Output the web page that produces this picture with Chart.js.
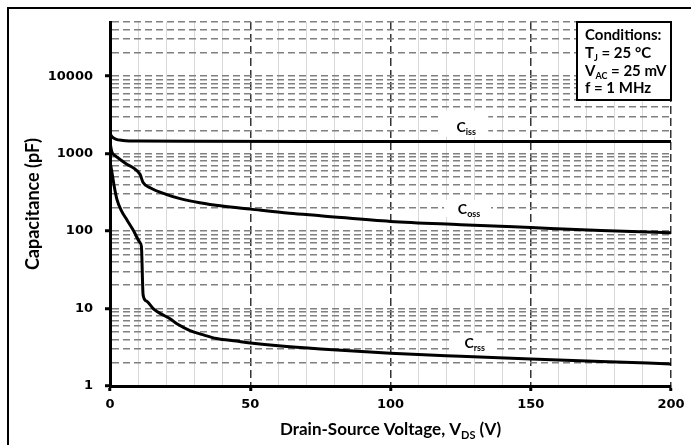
<!DOCTYPE html>
<html>
<head>
<meta charset="utf-8">
<script src="https://cdn.jsdelivr.net/npm/chart.js@4.4.1/dist/chart.umd.min.js"></script>
<style>
  html, body { margin: 0; padding: 0; background: #fff; }
  #wrap { position: relative; width: 691px; height: 445px; }
  canvas { display: block; }
</style>
</head>
<body>
<div id="wrap"><canvas id="c" width="691" height="445"></canvas></div>
<script>
// ---- Data ----
const cissV = [0, 0.7, 2, 4.6, 10, 30, 100, 200];
const cissC = [1800, 1650, 1540, 1480, 1450, 1440, 1435, 1430];

const cossV = [0, 0.6, 2, 3.6, 6, 8.2, 10.7, 11.8, 14.3, 20, 25, 32, 40, 50, 64, 75, 100, 125, 150, 175, 200];
const cossC = [1400, 1070, 930, 840, 730, 660, 540, 423, 363, 298, 262, 232, 210, 192, 170, 158, 133, 121, 111, 102, 95];

const crssV = [0, 0.7, 1.5, 2.5, 4, 6, 8.2, 10.7, 11.2, 11.8, 13, 15.4, 18, 21.4, 24, 28.5, 33, 38, 45, 50, 60, 75, 100, 125, 150, 175, 200];
const crssC = [800, 570, 380, 254, 185, 140, 104, 71, 63, 15, 12.5, 10, 8.6, 7.4, 6.3, 5.2, 4.6, 4.1, 3.8, 3.6, 3.3, 3.0, 2.65, 2.42, 2.23, 2.07, 1.93];

const xTicks = [0, 10, 20, 30, 40, 50, 60, 70, 80, 90, 100, 110, 120, 130, 140, 150, 160, 170, 180, 190, 200];
const xLabelTicks = [0, 50, 100, 150, 200];
const yTicks = [1,2,3,4,5,6,7,8,9,10,20,30,40,50,60,70,80,90,100,200,300,400,500,600,700,800,900,
                1000,2000,3000,4000,5000,6000,7000,8000,9000,10000,20000,30000,40000,50000];
const yLabelTicks = [1, 10, 100, 1000, 10000];

const curveNames = [
  [{t:'C'},{t:'iss',sub:true}],
  [{t:'C'},{t:'oss',sub:true}],
  [{t:'C'},{t:'rss',sub:true}]
];
const curveLabelV = [127, 128, 130];
const curveLabelC = [2230, 193, 3.6];

const conditionLines = [
  [{t:'Conditions:'}],
  [{t:'T'},{t:'J',sub:true},{t:' = 25 °C'}],
  [{t:'V'},{t:'AC',sub:true},{t:' = 25 mV'}],
  [{t:'f = 1 MHz'}]
];

const toPts = (xs, ys) => xs.map((x, i) => ({x: x, y: ys[i]}));

const TITLE_FONT = 'Lato';
function richWidth(ctx, parts, size) {
  let w = 0;
  for (const p of parts) {
    ctx.font = 'bold ' + (p.sub ? Math.round(size * 0.62) : size) + 'px ' + TITLE_FONT;
    w += ctx.measureText(p.t).width;
  }
  return w;
}
function drawRich(ctx, parts, x, y, size, align) {
  const w = richWidth(ctx, parts, size);
  let cx = align === 'center' ? x - w / 2 : (align === 'right' ? x - w : x);
  ctx.textAlign = 'left';
  ctx.textBaseline = 'alphabetic';
  for (const p of parts) {
    ctx.font = 'bold ' + (p.sub ? Math.round(size * 0.62) : size) + 'px ' + TITLE_FONT;
    ctx.fillText(p.t, cx, p.sub ? y + size * 0.22 : y);
    cx += ctx.measureText(p.t).width;
  }
}

const decorations = {
  id: 'decorations',
  beforeDraw(chart) {
    const ctx = chart.ctx;
    ctx.save();
    ctx.fillStyle = '#fff';
    ctx.fillRect(0, 0, chart.width, chart.height);
    ctx.strokeStyle = '#000';
    ctx.lineWidth = 2;
    ctx.beginPath();
    ctx.moveTo(8, chart.height + 5);
    ctx.lineTo(8, 8);
    ctx.lineTo(chart.width + 5, 8);
    ctx.stroke();
    ctx.restore();
  },
  beforeDatasetsDraw(chart) {
    const ctx = chart.ctx;
    const xs = chart.scales.x, ys = chart.scales.y;
    ctx.save();
    ctx.fillStyle = '#000';
    for (let i = 0; i < curveNames.length; i++) {
      const px = xs.getPixelForValue(curveLabelV[i]);
      const py = ys.getPixelForValue(curveLabelC[i]);
      ctx.fillStyle = '#fff';
      const h = i === 0 ? 26 : 17;
      ctx.fillRect(px - 25, py - (i === 0 ? 16 : 9), 47, h);
      ctx.fillStyle = '#000';
      drawRich(ctx, curveNames[i], px, py + 5, 14, 'center');
    }
    ctx.restore();
  },
  afterDraw(chart) {
    const ctx = chart.ctx;
    const a = chart.chartArea;
    ctx.save();
    ctx.fillStyle = '#000';
    // y title
    ctx.save();
    ctx.translate(33, (a.top + a.bottom) / 2);
    ctx.rotate(-Math.PI / 2);
    ctx.font = 'bold 18px ' + TITLE_FONT;
    ctx.textAlign = 'center';
    ctx.textBaseline = 'middle';
    ctx.fillText('Capacitance (pF)', 0, 0);
    ctx.restore();
    // x title
    drawRich(ctx, [{t:'Drain-Source Voltage, V'},{t:'DS',sub:true},{t:' (V)'}],
             (a.left + a.right) / 2, 435, 17, 'center');
    // conditions box
    const bx = 577, by = a.top, bw = a.right - 577, bh = 78;
    ctx.fillStyle = '#fff';
    ctx.fillRect(bx, by, bw, bh);
    ctx.strokeStyle = '#000';
    ctx.lineWidth = 2;
    ctx.strokeRect(bx, by, bw, bh);
    ctx.fillStyle = '#000';
    const base = [40, 58, 76, 93];
    conditionLines.forEach((ln, i) => drawRich(ctx, ln, 585, base[i], 15, 'left'));
    ctx.restore();
  }
};

const isMajorX = v => xLabelTicks.includes(v);
const isMajorY = v => yLabelTicks.includes(v);

new Chart(document.getElementById('c'), {
  type: 'line',
  data: {
    datasets: [
      { label: 'Ciss', data: toPts(cissV, cissC) },
      { label: 'Coss', data: toPts(cossV, cossC) },
      { label: 'Crss', data: toPts(crssV, crssC) }
    ].map(d => Object.assign(d, {
      borderColor: '#000', borderWidth: 3, pointRadius: 0, fill: false,
      cubicInterpolationMode: 'monotone'
    }))
  },
  options: {
    responsive: false,
    animation: false,
    devicePixelRatio: 1,
    layout: { padding: { left: 0, top: 22, right: 20, bottom: 0 } },
    plugins: { legend: { display: false }, tooltip: { enabled: false } },
    scales: {
      x: {
        type: 'linear', min: 0, max: 200,
        afterBuildTicks: s => { s.ticks = xTicks.map(v => ({ value: v })); },
        afterFit: s => { s.height = 59; },
        ticks: {
          autoSkip: false, maxRotation: 0, padding: 6, color: '#000',
          font: { family: 'DejaVu Sans', weight: 'bold', size: 13 },
          callback: v => isMajorX(v) ? String(v) : ''
        },
        grid: {
          color: c => (c.tick && isMajorX(c.tick.value)) ? '#333' : '#d9d9d9',
          lineWidth: c => (c.tick && isMajorX(c.tick.value)) ? 1.5 : 1,
          tickColor: c => (c.tick && isMajorX(c.tick.value)) ? '#000' : 'rgba(0,0,0,0)',
          tickLength: 5, tickWidth: 3
        },
        border: {
          display: true, color: '#000', width: 3,
          dash: c => (c.tick && isMajorX(c.tick.value)) ? [8, 4] : []
        }
      },
      y: {
        type: 'logarithmic', min: 1, max: 50000,
        afterBuildTicks: s => { s.ticks = yTicks.map(v => ({ value: v })); },
        afterFit: s => { s.width = 110; },
        ticks: {
          autoSkip: false, padding: 12, color: '#000',
          font: { family: 'DejaVu Sans', weight: 'bold', size: 13 },
          callback: v => isMajorY(v) ? String(v) : ''
        },
        grid: {
          color: '#808080',
          lineWidth: 1.5,
          tickColor: c => (c.tick && isMajorY(c.tick.value)) ? '#000' : 'rgba(0,0,0,0)',
          tickLength: 5, tickWidth: 3
        },
        border: {
          display: true, color: '#000', width: 3,
          dash: [7, 4]
        }
      }
    }
  },
  plugins: [decorations]
});
</script>
</body>
</html>
